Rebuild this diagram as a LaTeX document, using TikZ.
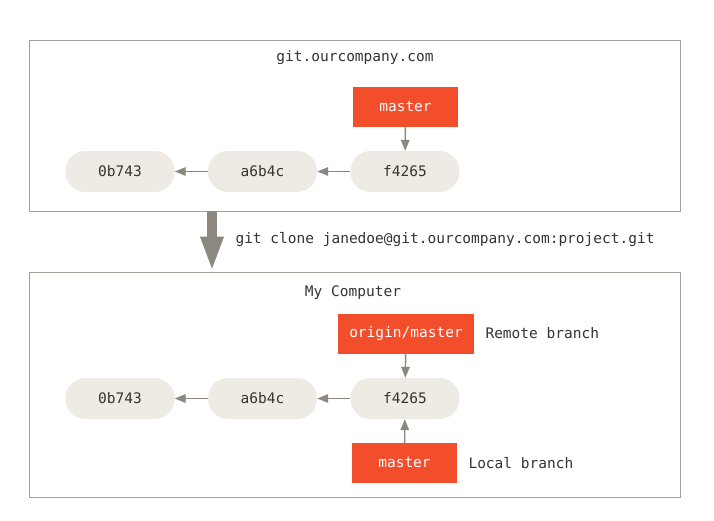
\documentclass[tikz,border=0pt]{standalone}
\usepackage{fontspec}
\setmonofont{DejaVu Sans Mono}
\usetikzlibrary{arrows.meta}
\definecolor{txt}{HTML}{37342F}
\definecolor{commitfill}{HTML}{EDEBE4}
\definecolor{branchred}{HTML}{F24E2C}
\definecolor{framegray}{HTML}{A3A09B}
\definecolor{linkgray}{HTML}{8C877F}
\tikzset{
  every node/.style={font=\ttfamily\fontsize{14.5}{16}\selectfont, text=txt},
  frame/.style={draw=framegray, line width=1.2pt},
  commit/.style={fill=commitfill, rounded corners=20pt, minimum width=109pt, minimum height=41pt, inner sep=0pt},
  branch/.style={fill=branchred, text=white, minimum height=40pt, inner sep=0pt},
  link/.style={draw=linkgray, line width=1.4pt, -{Triangle[length=11pt,width=8.5pt]}},
  bigarrow/.style={draw=linkgray, line width=10pt, -{Triangle[length=35pt,width=21pt]}},
  caption/.style={anchor=west},
}
\begin{document}
\begin{tikzpicture}[x=1pt,y=-1pt]
  \useasboundingbox (0,0) rectangle (714,520);
  \fill[white] (0,0) rectangle (714,520);

  % server repository
  \node[frame, minimum width=651pt, minimum height=171pt, inner sep=0pt, anchor=north west] (server) at (29,40) {};
  \node (servername) at (355,58) {git.ourcompany.com};
  \node[branch, minimum width=105pt] (smaster) at (405.5,107) {master};
  \node[commit] (s3) at (405,171.5) {f4265};
  \node[commit] (s2) at (262.5,171.5) {a6b4c};
  \node[commit] (s1) at (120,171.5) {0b743};
  \draw[link] (smaster) -- (s3);
  \draw[link] (s3) -- (s2);
  \draw[link] (s2) -- (s1);

  % local clone
  \node[frame, minimum width=651pt, minimum height=225pt, inner sep=0pt, anchor=north west] (local) at (29,272) {};
  \node (localname) at (353,293) {My Computer};
  \node[branch, minimum width=136pt] (origin) at (406,333.5) {origin/master};
  \node[commit] (l3) at (405,398.5) {f4265};
  \node[commit] (l2) at (262.5,398.5) {a6b4c};
  \node[commit] (l1) at (120,398.5) {0b743};
  \node[branch, minimum width=105pt] (lmaster) at (404.5,463) {master};
  \node[caption] (remotelbl) at (482,333) {Remote branch};
  \node[caption] (locallbl) at (465,463.5) {Local branch};
  \draw[link] (origin) -- (l3);
  \draw[link] (lmaster) -- (l3);
  \draw[link] (l3) -- (l2);
  \draw[link] (l2) -- (l1);

  % clone operation
  \coordinate (clonefrom) at (212,210.5);
  \coordinate (cloneto) at (212,271.5);
  \draw[bigarrow] (clonefrom) -- (cloneto);
  \node[caption] (clonecmd) at (232,240) {git clone janedoe@git.ourcompany.com:project.git};
\end{tikzpicture}
\end{document}
